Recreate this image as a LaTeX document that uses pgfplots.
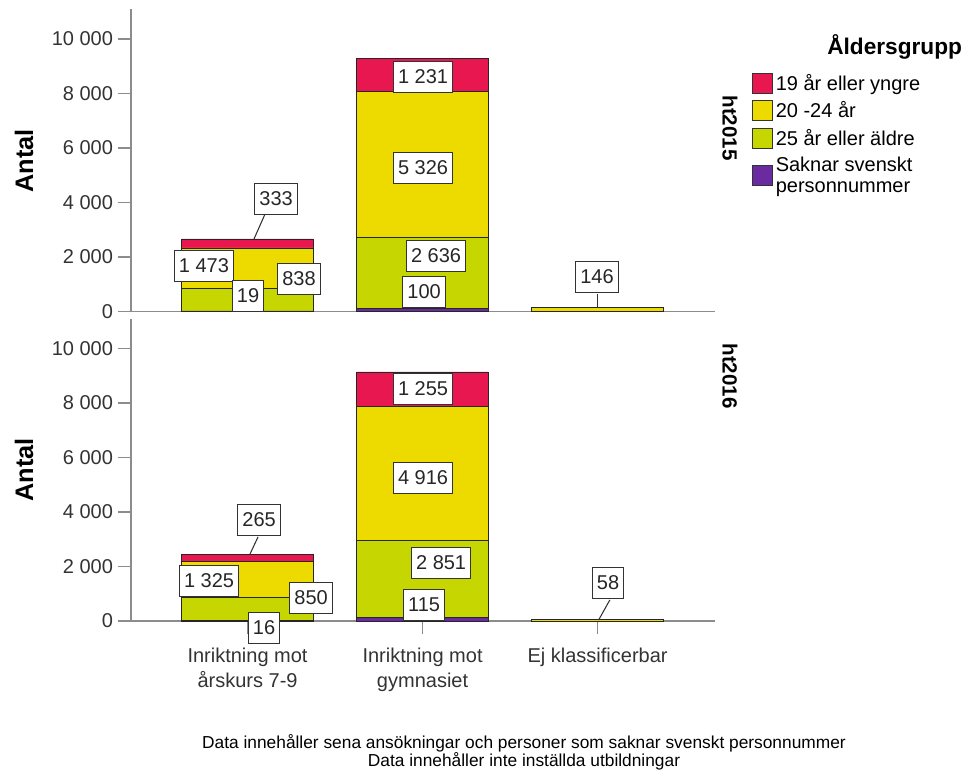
\documentclass[border=0pt]{standalone}
\usepackage{pgfplots}
\pgfplotsset{compat=1.18}
\usepackage{fontspec}
\setmainfont{Liberation Sans}
\definecolor{cRed}{HTML}{E8174F}
\definecolor{cYel}{HTML}{EDDB00}
\definecolor{cGrn}{HTML}{C6D600}
\definecolor{cPur}{HTML}{6A2BA0}
\definecolor{axgray}{HTML}{8C8C8C}
\pgfplotsset{
 panel/.style={
  scale only axis, width=438pt, height=226.5pt,
  xmin=-0.666, xmax=2.671, ymin=0, ymax=11080,
  axis x line*=bottom, axis y line*=left,
  axis line style={axgray, line width=0.9pt},
  ybar stacked, bar width=0.753,
  every axis plot/.append style={draw=black!85, line width=0.6pt,
    legend image code/.code={\draw[##1, draw=black!80, line width=0.6pt] (0pt,-7.5pt) rectangle (15pt,7.5pt);}},
  ytick={0,2000,4000,6000,8000,10000},
  scaled y ticks=false,
  tick align=outside, major tick length=10pt,
  tick style={axgray, line width=0.9pt},
  /pgf/number format/1000 sep={\ },
  /pgf/number format/assume math mode=true,
  yticklabel style={font=\fontsize{15}{18}\selectfont, text=black!80},
  xticklabel style={font=\fontsize{15}{18.5}\selectfont, text=black!80, align=center, yshift=-7pt},
  clip=false,
 },
}
\tikzset{
 lab/.style={draw=black!80, fill=white, font=\fontsize{15}{18}\selectfont, inner xsep=3.5pt, minimum height=23pt, text=black!85, line width=0.6pt},
 lead/.style={draw=black!80, line width=0.8pt},
}
\begin{document}
\begin{tikzpicture}
\useasboundingbox (0pt,0pt) rectangle (726.75pt,578.25pt);
% ---------- ht2015 ----------
\begin{axis}[panel, at={(98.25pt,344.625pt)}, anchor=south west, xtick=\empty,
  reverse legend,
  legend style={at={(axis description cs:1.0634,0.795)}, anchor=north west, draw=none, fill=none,
    font=\fontsize{15}{16}\selectfont, row sep=3pt, inner sep=0pt,
    cells={anchor=west, align=left}},
]
\addplot[fill=cPur] coordinates {(0,19) (1,100) (2,0)};
\addplot[fill=cGrn] coordinates {(0,838) (1,2636) (2,0)};
\addplot[fill=cYel] coordinates {(0,1473) (1,5326) (2,146)};
\addplot[fill=cRed] coordinates {(0,333) (1,1231) (2,0)};
\legend{Saknar svenskt\\personnummer, 25 år eller äldre, 20 -24 år, 19 år eller yngre}
\coordinate (La1) at (axis cs:0.10,3578);
\coordinate (La2) at (axis cs:0.037,2663);
\coordinate (Lb1) at (axis cs:1.997,642);
\coordinate (Lb2) at (axis cs:1.997,146);
\coordinate (A1) at (axis cs:0.163,4128);
\coordinate (A2) at (axis cs:-0.249,1670);
\coordinate (A3) at (axis cs:0.003,569);
\coordinate (A4) at (axis cs:0.294,1193);
\coordinate (A5) at (axis cs:1.003,8600);
\coordinate (A6) at (axis cs:1.003,5266);
\coordinate (A7) at (axis cs:1.077,2037);
\coordinate (A8) at (axis cs:1.009,716);
\coordinate (A9) at (axis cs:1.997,1266);
\end{axis}
\draw[lead] (La1) -- (La2);
\draw[lead] (Lb1) -- (Lb2);
\node[lab] at (A1) {333};
\node[lab] at (A2) {1 473};
\node[lab] at (A3) {19};
\node[lab] at (A4) {838};
\node[lab] at (A5) {1 231};
\node[lab] at (A6) {5 326};
\node[lab] at (A7) {2 636};
\node[lab] at (A8) {100};
\node[lab] at (A9) {146};
% ---------- ht2016 ----------
\begin{axis}[panel, at={(98.25pt,112.5pt)}, anchor=south west,
  xtick={0,1,2},
  xticklabels={{Inriktning mot\\årskurs 7-9},{Inriktning mot\\gymnasiet},{Ej klassificerbar}},
]
\addplot[fill=cPur] coordinates {(0,16) (1,115) (2,0)};
\addplot[fill=cGrn] coordinates {(0,850) (1,2851) (2,0)};
\addplot[fill=cYel] coordinates {(0,1325) (1,4916) (2,58)};
\addplot[fill=cRed] coordinates {(0,265) (1,1255) (2,0)};
\coordinate (Ma1) at (axis cs:0.06,3088);
\coordinate (Ma2) at (axis cs:0.014,2456);
\coordinate (Mb1) at (axis cs:2.07,772);
\coordinate (Mb2) at (axis cs:2.006,37);
\coordinate (B1) at (axis cs:0.066,3713);
\coordinate (B2) at (axis cs:-0.22,1471);
\coordinate (B3) at (axis cs:0.363,846);
\coordinate (B4) at (axis cs:0.094,-257);
\coordinate (B5) at (axis cs:1.003,8509);
\coordinate (B6) at (axis cs:1.003,5257);
\coordinate (B7) at (axis cs:1.106,2132);
\coordinate (B8) at (axis cs:1.009,588);
\coordinate (B9) at (axis cs:2.06,1397);
\end{axis}
\draw[lead] (Ma1) -- (Ma2);
\draw[lead] (Mb1) -- (Mb2);
\node[lab] at (B1) {265};
\node[lab] at (B2) {1 325};
\node[lab] at (B3) {850};
\node[lab] at (B4) {16};
\node[lab] at (B5) {1 255};
\node[lab] at (B6) {4 916};
\node[lab] at (B7) {2 851};
\node[lab] at (B8) {115};
\node[lab] at (B9) {58};
% ---------- outside texts ----------
\node[rotate=90, font=\fontsize{19}{22}\selectfont\bfseries] at (18pt,457.7pt) {Antal};
\node[rotate=90, font=\fontsize{19}{22}\selectfont\bfseries] at (18pt,225.75pt) {Antal};
\node[rotate=-90, font=\fontsize{15.4}{18}\selectfont\bfseries] at (547.5pt,482.25pt) {ht2015};
\node[rotate=-90, font=\fontsize{15.4}{18}\selectfont\bfseries] at (547.5pt,296.25pt) {ht2016};
\node[anchor=west, font=\fontsize{17}{20}\selectfont\bfseries, inner sep=0pt] at (620.25pt,543pt) {Åldersgrupp};
\node[anchor=base, font=\fontsize{13}{14}\selectfont, inner sep=0pt] at (393pt,17.25pt) {Data innehåller sena ansökningar och personer som saknar svenskt personnummer};
\node[anchor=base, font=\fontsize{13}{14}\selectfont, inner sep=0pt] at (393pt,3.75pt) {Data innehåller inte inställda utbildningar};
\end{tikzpicture}
\end{document}
